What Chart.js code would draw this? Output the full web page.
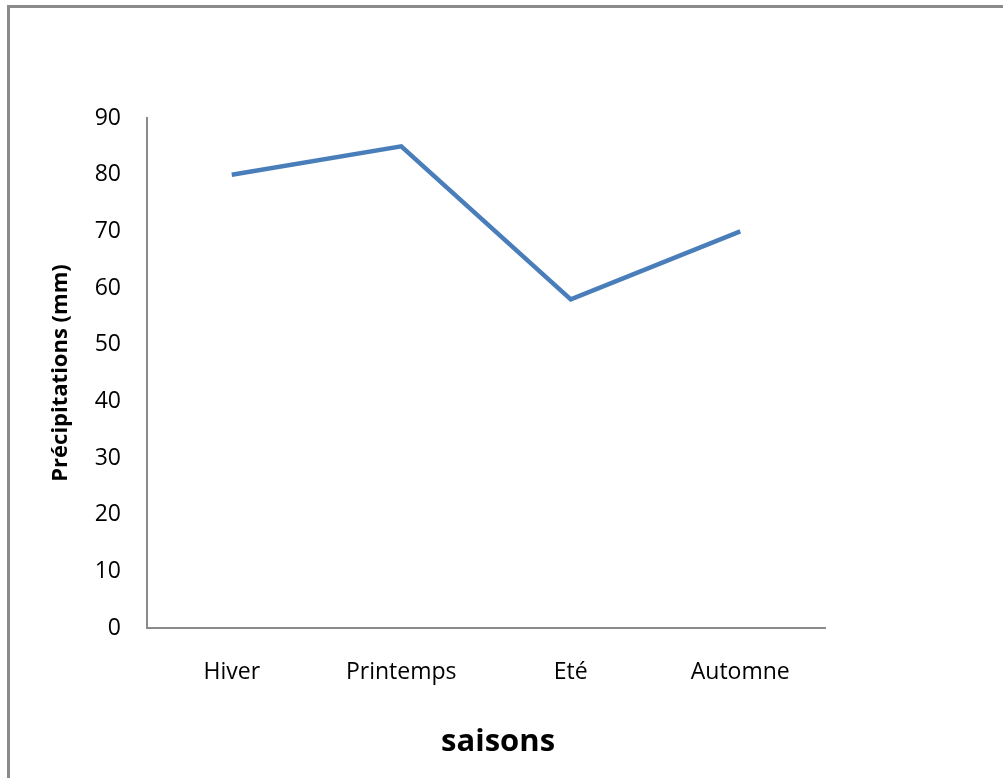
<!DOCTYPE html>
<html>
<head>
<meta charset="utf-8">
<script src="https://cdn.jsdelivr.net/npm/chart.js@4/dist/chart.umd.min.js"></script>
<style>
  html, body { margin: 0; padding: 0; background: #fff; overflow: hidden; }
  #cadre {
    position: absolute; left: 7px; top: 5px; width: 1100px; height: 900px;
    border-top: 3px solid #8a8a8a; border-left: 3px solid #8a8a8a;
  }
  #zone { position: absolute; left: 0; top: 0; width: 1003px; height: 778px; }
</style>
</head>
<body>
<div id="cadre"></div>
<div id="zone"><canvas id="graphique" width="1003" height="778"></canvas></div>
<script>
const saisons = ['Hiver', 'Printemps', 'Eté', 'Automne'];
const precipitations = [80, 85, 58, 70];

const police = "'Open Sans', 'Noto Sans', sans-serif";

const ctx = document.getElementById('graphique').getContext('2d');
new Chart(ctx, {
    type: 'line',
    data: {
        labels: saisons,
        datasets: [{
            label: 'Précipitations',
            data: precipitations,
            borderColor: '#4a7ebb',
            borderWidth: 4.5,
            pointRadius: 0,
            tension: 0,
            fill: false
        }]
    },
    options: {
        responsive: false,
        animation: false,
        layout: { padding: { left: 0, top: 118, right: 178, bottom: 0 } },
        plugins: { legend: { display: false }, tooltip: { enabled: false } },
        scales: {
            x: {
                offset: true,
                grid: { display: false, drawTicks: false },
                border: { display: true, color: '#8a8a8a', width: 2 },
                ticks: { color: '#000', padding: 31, font: { family: police, size: 23 } },
                title: {
                    display: true, text: '\u00a0\u00a0\u00a0saisons', color: '#000',
                    font: { family: police, size: 31, weight: 'bold' },
                    padding: { top: 0, bottom: 17 }
                },
                afterFit: s => { s.height = 150; }
            },
            y: {
                min: 0, max: 90,
                grid: { display: false, drawTicks: false },
                border: { display: true, color: '#8a8a8a', width: 2 },
                ticks: { stepSize: 10, color: '#000', padding: 26, font: { family: police, size: 23 } },
                title: {
                    display: true, text: 'Précipitations (mm)', color: '#000',
                    font: { family: police, size: 22, weight: 'bold' },
                    padding: { top: 48, bottom: 0 }
                },
                afterFit: s => { s.width = 147; }
            }
        }
    }
});
</script>
</body>
</html>
